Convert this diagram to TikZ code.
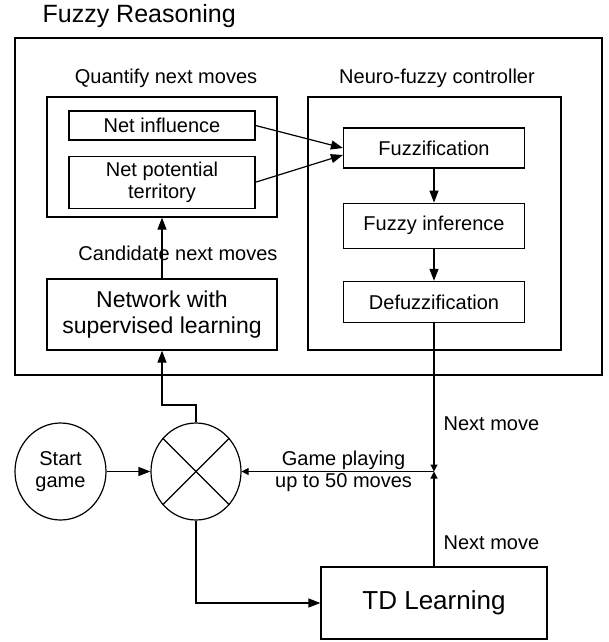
\documentclass[tikz,border=0pt]{standalone}
\usepackage{fontspec}
\setmainfont{Liberation Sans}
\usetikzlibrary{positioning,shapes.geometric,arrows.meta}
\tikzstyle{bloc}=[draw,rectangle,inner sep=0pt,align=center,font=\fontsize{20}{22}\selectfont]
\tikzstyle{cadre}=[draw,rectangle,inner sep=0pt]
\tikzstyle{rond}=[draw,ellipse,inner sep=0pt,minimum width=91pt,minimum height=97pt,align=center,font=\fontsize{20}{22}\selectfont]
\tikzstyle{etiquette}=[inner sep=0pt,align=center,font=\fontsize{20}{22}\selectfont]
\tikzstyle{petite}=[-{Triangle[length=7pt,width=7pt]}]

\begin{document}
\begin{tikzpicture}[x=1pt,y=-1pt,line width=1.2pt,>={Triangle[length=12pt,width=9pt]}]
\useasboundingbox (0,0) rectangle (609,642);

\node[etiquette,anchor=west,font=\fontsize{25}{28}\selectfont] (titre) at (42,16) {Fuzzy Reasoning};
\node[cadre,minimum width=587pt,minimum height=337pt] (global) at (308.5,206.5) {};

\node[etiquette] (lquant) at (166,78) {Quantify next moves};
\node[cadre,minimum width=230pt,minimum height=120pt] (quant) at (162,157) {};
\node[bloc,minimum width=186pt,minimum height=29pt] (netinf) at (162,125.5) {Net influence};
\node[bloc,minimum width=186pt,minimum height=52pt] (netpot) [below=15pt of netinf] {Net potential\\territory};
\node[bloc,minimum width=230pt,minimum height=71pt,font=\fontsize{23}{26}\selectfont] (network) at (162,314.5) {Network with\\supervised learning};

\node[etiquette] (lnf) at (437,78) {Neuro-fuzzy controller};
\node[cadre,minimum width=253pt,minimum height=253pt] (nf) at (434.5,223.5) {};
\node[bloc,minimum width=181pt,minimum height=40pt] (fuzz) at (434,148) {Fuzzification};
\node[bloc,minimum width=181pt,minimum height=45pt] (infer) [below=34pt of fuzz] {Fuzzy inference};
\node[bloc,minimum width=181pt,minimum height=41pt] (defuzz) [below=32pt of infer] {Defuzzification};

\node[rond] (start) at (60.5,471.5) {Start\\game};
\node[rond,minimum width=90pt] (mix) at (196,471.5) {};
\node[bloc,minimum width=226pt,minimum height=72pt,font=\fontsize{26}{30}\selectfont] (td) at (434,603) {TD Learning};
\coordinate (jonction) at (434,471.5);
\coordinate (coude) at (162,405);

\draw (mix.45) -- (mix.225);
\draw (mix.135) -- (mix.-45);

\draw[->] (netinf.east) -- (fuzz.west);
\draw[->] (netpot.east) -- ([yshift=-7pt]fuzz.west);
\draw[->] (fuzz) -- (infer);
\draw[->] (infer) -- (defuzz);
\draw[->] (network) -- node[etiquette,pos=0.42,xshift=16pt]{Candidate next moves} (quant);

\draw[petite] (defuzz) -- node[etiquette,pos=0.68,anchor=west,xshift=9pt]{Next move} (jonction);
\draw[petite] (td) -- node[etiquette,pos=0.25,anchor=west,xshift=9pt]{Next move} (jonction);
\draw[petite] (jonction) -- node[etiquette,pos=0.47]{Game playing\\up to 50 moves} (mix);
\draw[->] (start) -- (mix);
\draw[->] (mix.north) |- (coude) -- (network.south);
\draw[->] (mix.south) |- (td.west);

\end{tikzpicture}
\end{document}
